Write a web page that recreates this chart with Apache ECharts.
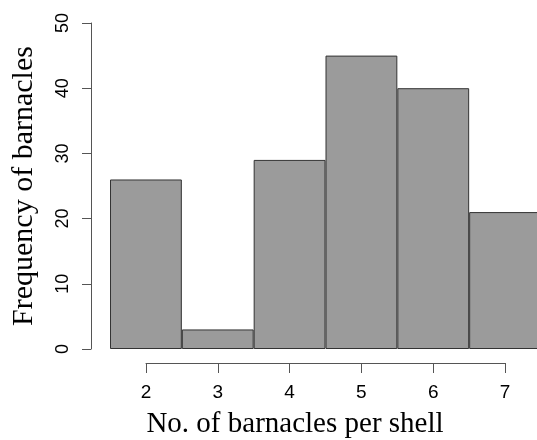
<!DOCTYPE html>
<html>
<head>
<meta charset="utf-8">
<script src="https://cdn.jsdelivr.net/npm/echarts@6/dist/echarts.min.js"></script>
<style>
  html, body { margin: 0; padding: 0; background: #fff; }
  #hist { width: 537px; height: 440px; }
</style>
</head>
<body>
<div id="hist"></div>
<script>
// barnacles per shell, histogram counts
var shellCounts = ['2', '3', '4', '5', '6', '7'];
var frequency = [26, 3, 29, 45, 40, 21];
var yTicks = [0, 10, 20, 30, 40, 50];

var chartDom = document.getElementById('hist');
var myChart = echarts.init(chartDom);

var axisGray = '#555';
var sans = 'Liberation Sans, Arial, sans-serif';
var serif = 'Liberation Serif, Times New Roman, serif';

var option = {
    animation: false,
    backgroundColor: '#fff',
    grid: [
        // bars
        { left: 110, top: 23, width: 431, bottom: 91, outerBoundsMode: 'none', containLabel: false },
        // R style x axis, only spans 2..7
        { left: 146, top: 23, right: 32, bottom: 77, outerBoundsMode: 'none', containLabel: false }
    ],
    xAxis: [{
        type: 'category',
        gridIndex: 0,
        data: shellCounts,
        show: false
    }, {
        type: 'value',
        gridIndex: 1,
        min: 2,
        max: 7,
        interval: 1,
        splitLine: { show: false },
        axisLine: { lineStyle: { color: axisGray, width: 1 } },
        axisTick: { length: 10, lineStyle: { color: axisGray } },
        axisLabel: { color: '#000', fontFamily: sans, fontSize: 19, margin: 20 },
        name: 'No. of barnacles per shell',
        nameLocation: 'middle',
        nameGap: 47,
        nameTextStyle: {
            color: '#000', fontFamily: serif, fontSize: 29,
            padding: [0, 61, 0, 0]
        }
    }],
    yAxis: [{
        type: 'value',
        gridIndex: 0,
        min: yTicks[0],
        max: yTicks[yTicks.length - 1],
        interval: 10,
        offset: 19,
        splitLine: { show: false },
        axisLine: { show: true, lineStyle: { color: axisGray, width: 1 } },
        axisTick: { show: true, length: 9, lineStyle: { color: axisGray } },
        axisLabel: {
            color: '#000', fontFamily: sans, fontSize: 18,
            rotate: 90, margin: 19
        },
        name: 'Frequency of barnacles',
        nameLocation: 'middle',
        nameGap: 52,
        nameTextStyle: { color: '#000', fontFamily: serif, fontSize: 30 }
    }, {
        type: 'value',
        gridIndex: 1,
        show: false
    }],
    series: [{
        type: 'bar',
        xAxisIndex: 0,
        yAxisIndex: 0,
        data: frequency,
        barCategoryGap: '0%',
        itemStyle: {
            color: '#9b9b9b',
            borderColor: '#333',
            borderWidth: 1
        }
    }]
};

myChart.setOption(option);

window.addEventListener('resize', function() {
    myChart.resize();
});
</script>
</body>
</html>
